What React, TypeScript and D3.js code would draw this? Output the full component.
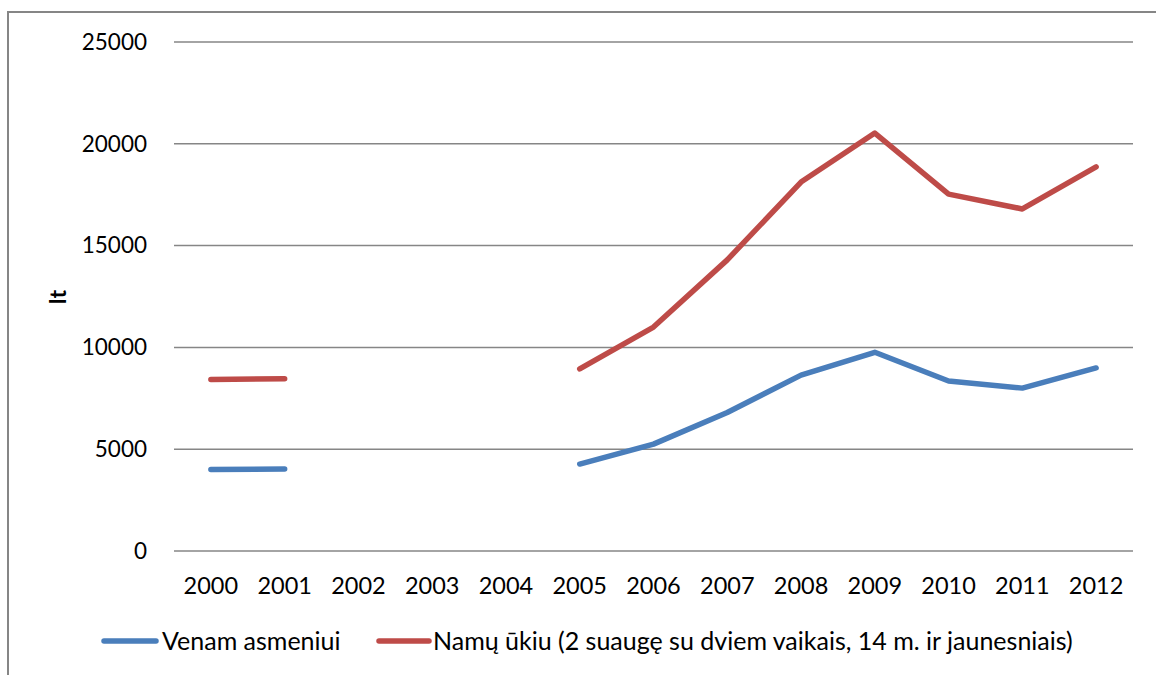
import React from "react";
import * as d3 from "d3";

const years = ["2000","2001","2002","2003","2004","2005","2006","2007","2008","2009","2010","2011","2012"];
const perPerson: (number | null)[] = [4000, 4030, null, null, null, 4270, 5250, 6800, 8640, 9760, 8350, 8000, 8990];
const household: (number | null)[] = [8420, 8460, null, null, null, 8940, 11000, 14300, 18120, 20530, 17530, 16800, 18870];
const yTicks = [0, 5000, 10000, 15000, 20000, 25000];
const seriesNames = ["Venam asmeniui", "Namų ūkiu (2 suaugę su dviem vaikais, 14 m. ir jaunesniais)"];
const seriesColors = ["#4A7EBB", "#BE4B48"];
const yLabel = "lt";

const W = 1156, H = 675;
const FONT = "Lato, 'Open Sans', sans-serif";

export default function App() {
  const x = d3.scaleBand<string>().domain(years).range([174, 1133]);
  const y = d3.scaleLinear().domain([0, 25000]).range([551, 42]);
  const line = d3
    .line<number | null>()
    .defined((d) => d != null)
    .x((_, i) => (x(years[i]) as number) + x.bandwidth() / 2)
    .y((d) => y(d as number));
  const series = [perPerson, household];

  return (
    <svg width={W} height={H} style={{ position: "absolute", left: 0, top: 0 }} fontFamily={FONT}>
      <rect x={0} y={0} width={W} height={H} fill="#fff" />
      <rect x={8} y={12} width={W + 20} height={H + 20} fill="none" stroke="#868686" strokeWidth={2} />
      {yTicks.map((t) => (
        <g key={t}>
          <line x1={174} x2={1133} y1={y(t)} y2={y(t)} stroke="#868686" strokeWidth={1.5} />
          <text x={147} y={y(t)} dy="0.35em" textAnchor="end" fontSize={22.5} fill="#000">{t}</text>
        </g>
      ))}
      {years.map((yr) => (
        <text key={yr} x={(x(yr) as number) + x.bandwidth() / 2} y={594} textAnchor="middle" fontSize={23.5} fill="#000">{yr}</text>
      ))}
      <text transform="translate(66,297) rotate(-90)" textAnchor="middle" fontSize={23} fontWeight="bold" fill="#000">{yLabel}</text>
      {series.map((s, i) => (
        <path key={i} d={line(s) || ""} fill="none" stroke={seriesColors[i]} strokeWidth={5.5} strokeLinecap="round" strokeLinejoin="round" />
      ))}
      {/* legend */}
      <line x1={104} x2={156} y1={641} y2={641} stroke={seriesColors[0]} strokeWidth={5.5} strokeLinecap="round" />
      <text x={162} y={650} fontSize={25} fill="#000">{seriesNames[0]}</text>
      <line x1={379} x2={429} y1={641} y2={641} stroke={seriesColors[1]} strokeWidth={5.5} strokeLinecap="round" />
      <text x={433} y={650} fontSize={25} fill="#000">{seriesNames[1]}</text>
    </svg>
  );
}
